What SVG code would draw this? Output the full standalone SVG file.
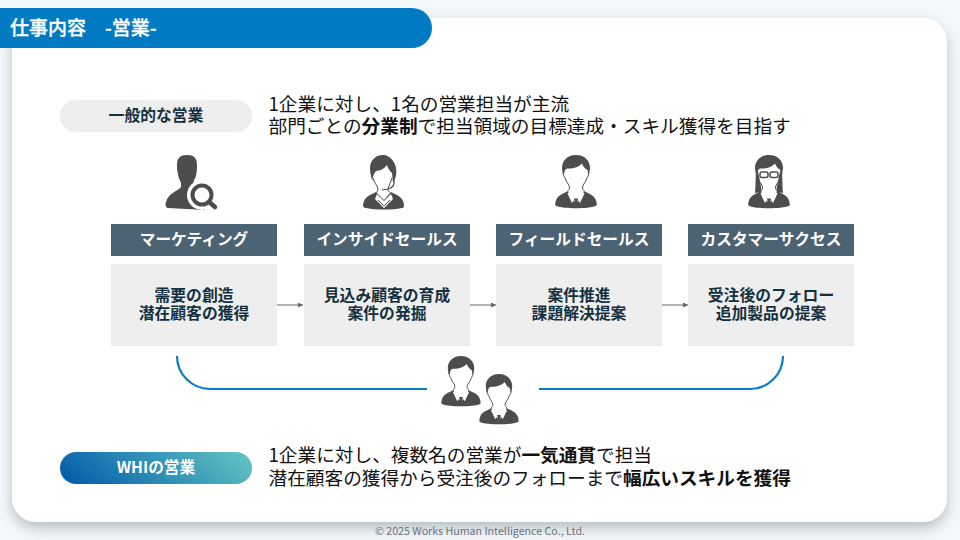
<svg xmlns="http://www.w3.org/2000/svg" width="960" height="540" viewBox="0 0 960 540">
<style>
text{font-family:"Noto Sans CJK JP","Noto Sans",sans-serif}
.m{font-size:18.67px;fill:#111}
.b{font-weight:700}
.h{fill:#4c6373}
.hb{fill:#eeeeee}
.ht{font-size:15.7px;font-weight:700;fill:#fff;text-anchor:middle}
.bt{font-size:15.8px;font-weight:700;fill:#14303f;text-anchor:middle}
.ico{fill:#4d4d4d}
.ol{fill:none;stroke:#4d4d4d;stroke-width:1}
.conn{stroke:#666;stroke-width:1;fill:none}
.arc{stroke:#0a7cc4;stroke-width:2.2;fill:none}
</style>
<defs>
<linearGradient id="g2" x1="0" y1="0.6" x2="1" y2="0.4"><stop offset="0" stop-color="#0560aa"/><stop offset="1" stop-color="#5fc0c2"/></linearGradient>
<filter id="sh" x="-5%" y="-5%" width="110%" height="112%"><feDropShadow dx="0" dy="6" stdDeviation="7" flood-color="#5a6670" flood-opacity="0.4"/></filter>
<marker id="ah" markerWidth="6" markerHeight="6" refX="5" refY="2.5" orient="auto" markerUnits="userSpaceOnUse"><path d="M0 0L5 2.5L0 5z" fill="#666"/></marker>
<symbol id="man" viewBox="0 0 42 54" overflow="visible">
<path class="ico" d="M21 0C12 0 7 6 7 13C7 15 7.500 17 9 20C9.500 16 10 14.500 12 13.500C18 14 24 12 27 8.500C28 11 30 14 32 14.500C33 16 33 17 33 20C34.500 17 35 15 35 13C35 6 30 0 21 0Z"/>
<path class="ol" d="M8 17C8 20 9.500 22 10.500 24C11 27 14 29 14.500 32C14.500 34 14 35 12.500 36M34 17C34 20 32.500 22 31.500 24C31 27 28 29 27.500 32C27.500 34 28 35 29.500 36"/>
<path class="ico" d="M13 36C8 39 2 40 .5 47C0 50 0 50.500 1.500 51C8 54 34 54 40.500 51C42 50.500 42 50 41.500 47C40 40 34 39 29 36L21 50Z"/>
<path fill="#fff" d="M14.500 36.500L20 43.500L17 48L12.500 38.500ZM27.500 36.500L22 43.500L25 48L29.500 38.500Z"/>
<path class="ico" d="M19 43.500H23L22.500 46L24.500 53H17.500L19.500 46Z"/>
</symbol>
</defs>
<rect width="960" height="540" fill="#f4f8fb"/>
<rect id="panel" x="12" y="18" width="935" height="504" rx="24" fill="#fff" filter="url(#sh)"/>
<g id="title"><path d="M0 8H412A20 20 0 0 1 412 48H0Z" fill="#007ac3"/>
<text x="10" y="35" font-size="19" font-weight="500" fill="#fff" stroke="#fff" stroke-width=".3">仕事内容　-営業-</text></g>
<g id="pill-general"><rect x="60" y="100" width="192" height="32" rx="16" fill="#eeeeee"/>
<text x="156" y="121" class="bt">一般的な営業</text></g>
<g id="intro-general">
<text x="268.500" y="111" class="m">1企業に対し、1名の営業担当が主流</text>
<text x="268.500" y="132.500" class="m">部門ごとの<tspan class="b">分業制</tspan>で担当領域の目標達成・スキル獲得を目指す</text></g>

<g id="icon-marketing">
<path class="ico" d="M187 155C180 155 177 158 177 165C177 168 177 171 178 174C178 177 180 180 181 183L181 187C177 192 169 192 166 202C165 205 166 208 168 208L205 210L205 190L193 186L194 180C196 178 197 172 197 165C197 158 194 155 187 155Z"/>
<circle cx="202" cy="195" r="15" fill="#fff"/>
<path d="M208 201L215 207" stroke="#4d4d4d" stroke-width="4.500" stroke-linecap="round"/>
<circle cx="202" cy="195" r="9.500" fill="#fff" stroke="#4d4d4d" stroke-width="4"/>
</g>
<g id="icon-inside">
<path class="ico" d="M383 155C375 155 370 161 370 168C370 173 371 176 372 181C373 176 374 173 376 171C380 171 385 168 387 165C388 169 391 172 392 173L393 183C396 178 397 173 396 168C395 162 390 155 383 155Z"/>
<path class="ol" d="M373 178C374 182 377 185 378 189C378 191 377 192 376 192.500M392 178C391 182 389 185 388 189C388 191 389 192 390 192.500"/>
<path class="ico" d="M376 192C371 195 364 196 363 205C363 207 364 208 366 208C376 210 392 210 402 208C404 208 404 207 404 205C403 196 396 195 391 192L384 200Z"/>
<path fill="#fff" d="M377 194L384 201L391 194L393 199L384 208L375 199Z"/>
<path fill="none" stroke="#4d4d4d" stroke-width="1.200" d="M394 180C395 185 392 188 388 189L382 190"/>
<path class="ol" d="M378 200L384 206L390 200"/>
</g>
<use id="icon-field" href="#man" x="555" y="155" width="42" height="54"/>
<g id="icon-success">
<use href="#man" x="748" y="155" width="42" height="54"/>
<path class="ico" d="M757 168C755 175 756 184 755 193L761 192C762 188 760 182 759 176ZM781 168C783 175 782 184 783 193L777 192C776 188 778 182 779 176Z"/>
<g fill="#fff" stroke="#4d4d4d" stroke-width="1.500"><rect x="760" y="172" width="8" height="5.500" rx="2"/><rect x="770" y="172" width="8" height="5.500" rx="2"/></g>
</g>

<g id="connectors">
<path class="conn" d="M277 305H303" marker-end="url(#ah)"/>
<path class="conn" d="M470 305H496" marker-end="url(#ah)"/>
<path class="conn" d="M662 305H688" marker-end="url(#ah)"/>
<path class="arc" d="M177 356A33 33 0 0 0 210 389H427"/>
<path class="arc" d="M783 356A33 33 0 0 1 750 389H539"/>
</g>

<g id="n1"><rect class="h" x="111" y="224" width="166" height="32"/><text class="ht" x="194" y="245">マーケティング</text>
<rect class="hb" x="111" y="264" width="166" height="82"/><text class="bt" x="194" y="301">需要の創造</text><text class="bt" x="194" y="319">潜在顧客の獲得</text></g>
<g id="n2"><rect class="h" x="304" y="224" width="166" height="32"/><text class="ht" x="387" y="245">インサイドセールス</text>
<rect class="hb" x="304" y="264" width="166" height="82"/><text class="bt" x="387" y="301">見込み顧客の育成</text><text class="bt" x="387" y="319">案件の発掘</text></g>
<g id="n3"><rect class="h" x="496" y="224" width="166" height="32"/><text class="ht" x="579" y="245">フィールドセールス</text>
<rect class="hb" x="496" y="264" width="166" height="82"/><text class="bt" x="579" y="301">案件推進</text><text class="bt" x="579" y="319">課題解決提案</text></g>
<g id="n4"><rect class="h" x="688" y="224" width="166" height="32"/><text class="ht" x="771" y="245">カスタマーサクセス</text>
<rect class="hb" x="688" y="264" width="166" height="82"/><text class="bt" x="771" y="301">受注後のフォロー</text><text class="bt" x="771" y="319">追加製品の提案</text></g>

<g id="icon-team">
<use href="#man" x="441" y="356" width="40" height="51"/>
<use href="#man" x="479" y="374" width="40" height="51"/>
</g>

<g id="pill-whi"><rect x="60" y="452" width="192" height="32" rx="16" fill="url(#g2)"/>
<text x="156" y="473" font-size="15.7" font-weight="700" fill="#fff" text-anchor="middle">WHIの営業</text></g>
<g id="intro-whi">
<text x="268.500" y="461.500" class="m">1企業に対し、複数名の営業が<tspan class="b">一気通貫</tspan>で担当</text>
<text x="268.500" y="484.500" class="m">潜在顧客の獲得から受注後のフォローまで<tspan class="b">幅広いスキルを獲得</tspan></text></g>
<text id="footer" x="480" y="535" font-size="10.67" fill="#6b7280" text-anchor="middle">© 2025 Works Human Intelligence Co., Ltd.</text>
</svg>
